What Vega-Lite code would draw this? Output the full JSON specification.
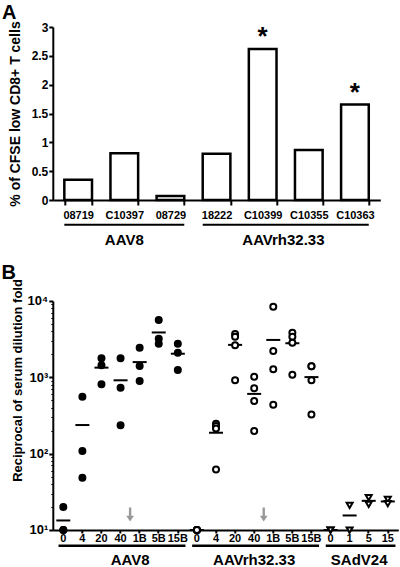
{
  "$schema": "https://vega.github.io/schema/vega-lite/v6.json",
  "padding": {"left": 0.8, "top": 2, "right": 0, "bottom": 0},
  "spacing": 14,
  "config": {
    "font": "Liberation Sans",
    "view": {"stroke": null},
    "axis": {
      "labelFont": "Liberation Sans", "labelFontWeight": "bold", "labelColor": "black",
      "titleFont": "Liberation Sans", "titleFontWeight": "bold", "titleColor": "black",
      "domainColor": "black", "domainWidth": 2, "tickColor": "black", "tickWidth": 2, "grid": false,
      "labelOverlap": false
    },
    "title": {"font": "Liberation Sans", "fontWeight": "bold", "color": "black"}
  },
  "datasets": {
    "cfse": [
      {"animal": "08719", "vector": "AAV8", "pct": 0.35, "sig": ""},
      {"animal": "C10397", "vector": "AAV8", "pct": 0.81, "sig": ""},
      {"animal": "08729", "vector": "AAV8", "pct": 0.07, "sig": ""},
      {"animal": "18222", "vector": "AAVrh32.33", "pct": 0.8, "sig": ""},
      {"animal": "C10399", "vector": "AAVrh32.33", "pct": 2.62, "sig": "*"},
      {"animal": "C10355", "vector": "AAVrh32.33", "pct": 0.865, "sig": ""},
      {"animal": "C10363", "vector": "AAVrh32.33", "pct": 1.655, "sig": "*"}
    ],
    "groupsA": [
      {"vector": "AAV8", "first": "08719", "last": "08729", "mid": "C10397"},
      {"vector": "AAVrh32.33", "first": "18222", "last": "C10363", "mid": "C10399"}
    ],
    "titers": [
      {"vector": "AAV8", "cat": "AAV8|0", "titer": 20},
      {"vector": "AAV8", "cat": "AAV8|0", "titer": 10},
      {"vector": "AAV8", "cat": "AAV8|0", "titer": 10},
      {"vector": "AAV8", "cat": "AAV8|4", "titer": 555},
      {"vector": "AAV8", "cat": "AAV8|4", "titer": 108},
      {"vector": "AAV8", "cat": "AAV8|4", "titer": 48.5},
      {"vector": "AAV8", "cat": "AAV8|20", "titer": 1775},
      {"vector": "AAV8", "cat": "AAV8|20", "titer": 1435},
      {"vector": "AAV8", "cat": "AAV8|20", "titer": 809},
      {"vector": "AAV8", "cat": "AAV8|40", "titer": 1775},
      {"vector": "AAV8", "cat": "AAV8|40", "titer": 733},
      {"vector": "AAV8", "cat": "AAV8|40", "titer": 235},
      {"vector": "AAV8", "cat": "AAV8|1B", "titer": 2450},
      {"vector": "AAV8", "cat": "AAV8|1B", "titer": 1406},
      {"vector": "AAV8", "cat": "AAV8|1B", "titer": 895},
      {"vector": "AAV8", "cat": "AAV8|5B", "titer": 5636},
      {"vector": "AAV8", "cat": "AAV8|5B", "titer": 3214},
      {"vector": "AAV8", "cat": "AAV8|5B", "titer": 2763},
      {"vector": "AAV8", "cat": "AAV8|15B", "titer": 2763},
      {"vector": "AAV8", "cat": "AAV8|15B", "titer": 2104},
      {"vector": "AAV8", "cat": "AAV8|15B", "titer": 1247},
      {"vector": "AAVrh32.33", "cat": "AAVrh32.33|0", "titer": 10},
      {"vector": "AAVrh32.33", "cat": "AAVrh32.33|0", "titer": 10},
      {"vector": "AAVrh32.33", "cat": "AAVrh32.33|0", "titer": 10},
      {"vector": "AAVrh32.33", "cat": "AAVrh32.33|0", "titer": 10},
      {"vector": "AAVrh32.33", "cat": "AAVrh32.33|4", "titer": 247},
      {"vector": "AAVrh32.33", "cat": "AAVrh32.33|4", "titer": 230},
      {"vector": "AAVrh32.33", "cat": "AAVrh32.33|4", "titer": 213},
      {"vector": "AAVrh32.33", "cat": "AAVrh32.33|4", "titer": 62},
      {"vector": "AAVrh32.33", "cat": "AAVrh32.33|20", "titer": 3698},
      {"vector": "AAVrh32.33", "cat": "AAVrh32.33|20", "titer": 3409},
      {"vector": "AAVrh32.33", "cat": "AAVrh32.33|20", "titer": 2626},
      {"vector": "AAVrh32.33", "cat": "AAVrh32.33|20", "titer": 914},
      {"vector": "AAVrh32.33", "cat": "AAVrh32.33|40", "titer": 1021},
      {"vector": "AAVrh32.33", "cat": "AAVrh32.33|40", "titer": 718},
      {"vector": "AAVrh32.33", "cat": "AAVrh32.33|40", "titer": 490},
      {"vector": "AAVrh32.33", "cat": "AAVrh32.33|40", "titer": 198},
      {"vector": "AAVrh32.33", "cat": "AAVrh32.33|1B", "titer": 8435},
      {"vector": "AAVrh32.33", "cat": "AAVrh32.33|1B", "titer": 2213},
      {"vector": "AAVrh32.33", "cat": "AAVrh32.33|1B", "titer": 1273},
      {"vector": "AAVrh32.33", "cat": "AAVrh32.33|1B", "titer": 438},
      {"vector": "AAVrh32.33", "cat": "AAVrh32.33|5B", "titer": 3848},
      {"vector": "AAVrh32.33", "cat": "AAVrh32.33|5B", "titer": 3409},
      {"vector": "AAVrh32.33", "cat": "AAVrh32.33|5B", "titer": 2845},
      {"vector": "AAVrh32.33", "cat": "AAVrh32.33|5B", "titer": 1084},
      {"vector": "AAVrh32.33", "cat": "AAVrh32.33|15B", "titer": 1393},
      {"vector": "AAVrh32.33", "cat": "AAVrh32.33|15B", "titer": 1393},
      {"vector": "AAVrh32.33", "cat": "AAVrh32.33|15B", "titer": 914},
      {"vector": "AAVrh32.33", "cat": "AAVrh32.33|15B", "titer": 327},
      {"vector": "SAdV24", "cat": "SAdV24|0", "titer": 10},
      {"vector": "SAdV24", "cat": "SAdV24|0", "titer": 10},
      {"vector": "SAdV24", "cat": "SAdV24|1", "titer": 21},
      {"vector": "SAdV24", "cat": "SAdV24|1", "titer": 10},
      {"vector": "SAdV24", "cat": "SAdV24|5", "titer": 26.5},
      {"vector": "SAdV24", "cat": "SAdV24|5", "titer": 21.7},
      {"vector": "SAdV24", "cat": "SAdV24|15", "titer": 25.2},
      {"vector": "SAdV24", "cat": "SAdV24|15", "titer": 22.1}
    ],
    "arrows": [
      {"vector": "AAV8", "event": "boost", "after": "AAV8|40"},
      {"vector": "AAVrh32.33", "event": "boost", "after": "AAVrh32.33|40"}
    ],
    "groupsB": [
      {"vector": "AAV8", "first": "AAV8|0", "last": "AAV8|15B", "mid": "AAV8|40"},
      {"vector": "AAVrh32.33", "first": "AAVrh32.33|0", "last": "AAVrh32.33|15B", "mid": "AAVrh32.33|40"},
      {"vector": "SAdV24", "first": "SAdV24|0", "last": "SAdV24|15", "mid": "SAdV24|1"}
    ]
  },
  "vconcat": [
    {
      "title": {"text": "A", "anchor": "start", "fontSize": 20, "offset": -2, "dx": -6},
      "width": 327.5,
      "height": 173,
      "layer": [
        {
          "data": {"name": "cfse"},
          "mark": {"type": "bar", "fill": "white", "stroke": "black", "strokeWidth": 2.5},
          "encoding": {
            "x": {
              "field": "animal", "type": "nominal",
              "scale": {"domain": ["08719", "C10397", "08729", "18222", "C10399", "C10355", "C10363"], "paddingInner": 0.4, "paddingOuter": 0.25},
              "axis": {"title": null, "labelAngle": 0, "labelFontSize": 11, "tickBand": "extent", "tickSize": 5, "labelPadding": 4}
            },
            "y": {
              "field": "pct", "type": "quantitative",
              "scale": {"domain": [0, 3]},
              "axis": {"title": "% of CFSE low CD8+ T cells", "values": [0, 0.5, 1, 1.5, 2, 2.5, 3], "tickCount": 7, "format": "~g", "labelOverlap": false, "labelFontSize": 12, "titleFontSize": 14, "tickSize": 4, "labelPadding": 1, "titlePadding": 9}
            }
          }
        },
        {
          "data": {"name": "cfse"},
          "transform": [{"filter": "datum.sig == '*'"}],
          "mark": {"type": "text", "fontSize": 26, "fontWeight": "bold", "baseline": "alphabetic", "dy": -4, "color": "black"},
          "encoding": {
            "x": {"field": "animal", "type": "nominal", "axis": {"title": null, "labelAngle": 0, "labelFontSize": 11, "tickBand": "extent", "tickSize": 5, "labelPadding": 4}},
            "y": {"field": "pct", "type": "quantitative", "axis": {"title": "% of CFSE low CD8+ T cells", "values": [0, 0.5, 1, 1.5, 2, 2.5, 3], "tickCount": 7, "format": "~g", "labelOverlap": false, "labelFontSize": 12, "titleFontSize": 14, "tickSize": 4, "labelPadding": 1, "titlePadding": 9}},
            "text": {"field": "sig"}
          }
        },
        {
          "data": {"name": "groupsA"},
          "mark": {"type": "rule", "strokeWidth": 2, "color": "black"},
          "encoding": {
            "x": {"field": "first", "type": "nominal", "bandPosition": 0, "axis": {"title": null, "labelAngle": 0, "labelFontSize": 11, "tickBand": "extent", "tickSize": 5, "labelPadding": 4, "bandPosition": 0.5}},
            "x2": {"field": "last", "bandPosition": 1},
            "y": {"datum": -0.43, "type": "quantitative", "axis": {"title": "% of CFSE low CD8+ T cells", "values": [0, 0.5, 1, 1.5, 2, 2.5, 3], "tickCount": 7, "format": "~g", "labelOverlap": false, "labelFontSize": 12, "titleFontSize": 14, "tickSize": 4, "labelPadding": 1, "titlePadding": 9}}
          }
        },
        {
          "data": {"name": "groupsA"},
          "transform": [{"filter": "datum.vector == 'AAV8'"}],
          "mark": {"type": "text", "fontSize": 15, "fontWeight": "bold", "baseline": "middle", "color": "black"},
          "encoding": {
            "x": {"field": "mid", "type": "nominal", "bandPosition": 0.5, "axis": {"title": null, "labelAngle": 0, "labelFontSize": 11, "tickBand": "extent", "tickSize": 5, "labelPadding": 4, "bandPosition": 0.5}},
            "y": {"datum": -0.69, "type": "quantitative", "axis": {"title": "% of CFSE low CD8+ T cells", "values": [0, 0.5, 1, 1.5, 2, 2.5, 3], "tickCount": 7, "format": "~g", "labelOverlap": false, "labelFontSize": 12, "titleFontSize": 14, "tickSize": 4, "labelPadding": 1, "titlePadding": 9}},
            "text": {"field": "vector"}
          }
        },
        {
          "data": {"name": "groupsA"},
          "transform": [{"filter": "datum.vector == 'AAVrh32.33'"}],
          "mark": {"type": "text", "fontSize": 15, "fontWeight": "bold", "baseline": "middle", "color": "black"},
          "encoding": {
            "x": {"field": "mid", "type": "nominal", "bandPosition": 1.25, "axis": {"title": null, "labelAngle": 0, "labelFontSize": 11, "tickBand": "extent", "tickSize": 5, "labelPadding": 4, "bandPosition": 0.5}},
            "y": {"datum": -0.69, "type": "quantitative", "axis": {"title": "% of CFSE low CD8+ T cells", "values": [0, 0.5, 1, 1.5, 2, 2.5, 3], "tickCount": 7, "format": "~g", "labelOverlap": false, "labelFontSize": 12, "titleFontSize": 14, "tickSize": 4, "labelPadding": 1, "titlePadding": 9}},
            "text": {"field": "vector"}
          }
        }
      ]
    },
    {
      "title": {"text": "B", "anchor": "start", "fontSize": 20, "offset": -4, "dx": -10.5},
      "width": 345.5,
      "height": 229,
      "layer": [
        {
          "data": {"name": "arrows"},
          "mark": {"type": "point", "shape": "M0,1L-0.55,0.2L-0.17,0.2L-0.17,-1L0.17,-1L0.17,0.2L0.55,0.2Z", "size": 196, "filled": true, "color": "#999999", "opacity": 1},
          "encoding": {
            "x": {"field": "after", "type": "nominal", "bandPosition": 1, "axis": {"bandPosition": 0.5, "title": null, "labelAngle": 0, "labelFontSize": 11, "tickSize": 3, "labelPadding": 0, "labelExpr": "slice(datum.label, indexof(datum.label, '|') + 1)"}},
            "y": {"datum": 16}
          }
        },
        {
          "data": {"name": "titers"},
          "mark": {"type": "tick", "thickness": 2, "size": 14, "color": "black", "opacity": 1},
          "encoding": {
            "x": {"field": "cat", "type": "nominal"},
            "y": {"aggregate": "mean", "field": "titer", "type": "quantitative"}
          }
        },
        {
          "data": {"name": "titers"},
          "mark": {"type": "point", "filled": true, "stroke": "black", "strokeWidth": 2, "size": 36, "opacity": 1},
          "encoding": {
            "x": {
              "field": "cat", "type": "nominal",
              "scale": {"domain": ["AAV8|0", "AAV8|4", "AAV8|20", "AAV8|40", "AAV8|1B", "AAV8|5B", "AAV8|15B", "AAVrh32.33|0", "AAVrh32.33|4", "AAVrh32.33|20", "AAVrh32.33|40", "AAVrh32.33|1B", "AAVrh32.33|5B", "AAVrh32.33|15B", "SAdV24|0", "SAdV24|1", "SAdV24|5", "SAdV24|15"], "paddingInner": 0, "paddingOuter": 0.05},
              "axis": {"bandPosition": 0.5, "title": null, "labelAngle": 0, "labelFontSize": 11, "tickSize": 3, "labelPadding": 0, "labelExpr": "slice(datum.label, indexof(datum.label, '|') + 1)"}
            },
            "y": {
              "field": "titer", "type": "quantitative",
              "scale": {"type": "log", "domain": [10, 10000]},
              "axis": {
                "title": "Reciprocal of serum dilution fold", "titleFontSize": 13, "titlePadding": 2, "titleY": 79,
                "values": [10, 20, 30, 40, 50, 60, 70, 80, 90, 100, 200, 300, 400, 500, 600, 700, 800, 900, 1000, 2000, 3000, 4000, 5000, 6000, 7000, 8000, 9000, 10000],
                "labelExpr": "datum.value == 10 ? '10¹' : datum.value == 100 ? '10²' : datum.value == 1000 ? '10³' : datum.value == 10000 ? '10⁴' : ''",
                "labelFontSize": 13, "labelPadding": 1,
                "tickSize": {"condition": {"test": "datum.value == 10 || datum.value == 100 || datum.value == 1000 || datum.value == 10000", "value": 4}, "value": 2},
                "tickWidth": {"condition": {"test": "datum.value == 10 || datum.value == 100 || datum.value == 1000 || datum.value == 10000", "value": 2}, "value": 1}
              }
            },
            "shape": {"field": "vector", "type": "nominal", "scale": {"domain": ["AAV8", "AAVrh32.33", "SAdV24"], "range": ["circle", "circle", "triangle-down"]}, "legend": null},
            "fill": {"field": "vector", "type": "nominal", "scale": {"domain": ["AAV8", "AAVrh32.33", "SAdV24"], "range": ["black", "white", "white"]}, "legend": null}
          }
        },
        {
          "data": {"name": "groupsB"},
          "mark": {"type": "rule", "strokeWidth": 2.5, "color": "black"},
          "encoding": {
            "x": {"field": "first", "type": "nominal", "bandPosition": 0.25, "axis": {"bandPosition": 0.5, "title": null, "labelAngle": 0, "labelFontSize": 11, "tickSize": 3, "labelPadding": 0, "labelExpr": "slice(datum.label, indexof(datum.label, '|') + 1)"}},
            "x2": {"field": "last", "bandPosition": 0.9},
            "y": {"datum": 6.2}
          }
        },
        {
          "data": {"name": "groupsB"},
          "transform": [{"filter": "datum.vector != 'AAVrh32.33'"}],
          "mark": {"type": "text", "fontSize": 15, "fontWeight": "bold", "baseline": "middle", "color": "black"},
          "encoding": {
            "x": {"field": "mid", "type": "nominal", "bandPosition": 1, "axis": {"bandPosition": 0.5, "title": null, "labelAngle": 0, "labelFontSize": 11, "tickSize": 3, "labelPadding": 0, "labelExpr": "slice(datum.label, indexof(datum.label, '|') + 1)"}},
            "y": {"datum": 4.05},
            "text": {"field": "vector"}
          }
        },
        {
          "data": {"name": "groupsB"},
          "transform": [{"filter": "datum.vector == 'AAVrh32.33'"}],
          "mark": {"type": "text", "fontSize": 15, "fontWeight": "bold", "baseline": "middle", "color": "black"},
          "encoding": {
            "x": {"field": "mid", "type": "nominal", "bandPosition": 0.5, "axis": {"bandPosition": 0.5, "title": null, "labelAngle": 0, "labelFontSize": 11, "tickSize": 3, "labelPadding": 0, "labelExpr": "slice(datum.label, indexof(datum.label, '|') + 1)"}},
            "y": {"datum": 4.05},
            "text": {"field": "vector"}
          }
        }
      ]
    }
  ]
}
